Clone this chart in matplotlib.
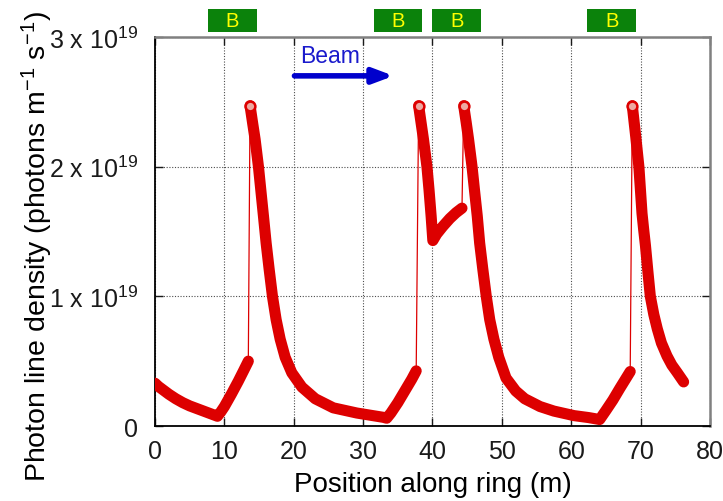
import numpy as np
import matplotlib
matplotlib.use("Agg")
from matplotlib import pyplot as plt
from matplotlib import transforms
from matplotlib.patches import Rectangle

plt.rcParams["font.family"] = ["Liberation Sans", "DejaVu Sans"]
plt.rcParams["mathtext.fontset"] = "custom"
plt.rcParams["mathtext.rm"] = "Liberation Sans"
plt.rcParams["mathtext.it"] = "Liberation Sans:italic"
plt.rcParams["mathtext.bf"] = "Liberation Sans:bold"

# ---------------------------
# datos (densidad en unidades de 1e19 fotones/m/s)
# ---------------------------
# tramo antes del primer dipolo
x_a = [0, 0.5, 1, 2, 3, 4, 5, 6, 7, 8, 9.0, 9.5, 10, 11, 12, 12.8, 13.45]
y_a = [0.33, 0.305, 0.285, 0.245, 0.21, 0.18, 0.155, 0.135, 0.115, 0.095, 0.075,
       0.11, 0.15, 0.245, 0.345, 0.43, 0.50]

# pico 1 + decaimiento + subida
x_b = [13.7, 14.06, 14.43, 14.91, 15.25, 15.63, 16.02, 16.45, 16.93, 17.46, 18.04,
       18.76, 19.72, 21.17, 23.1, 25.7, 29.1, 32.9, 33.4, 34, 35, 36, 37, 37.65]
y_b = [2.47, 2.34, 2.21, 2.0, 1.82, 1.62, 1.41, 1.21, 1.0, 0.82, 0.67,
       0.53, 0.41, 0.30, 0.21, 0.14, 0.10, 0.067, 0.06, 0.10, 0.18, 0.27, 0.36, 0.425]

# pico 2 (entre dos dipolos)
x_c = [38.0, 38.35, 38.7, 39.2, 39.5, 39.8, 40.05, 40.6, 41.5, 42.5, 43.4, 44.25]
y_c = [2.47, 2.34, 2.21, 2.0, 1.82, 1.62, 1.43, 1.48, 1.54, 1.60, 1.645, 1.68]

# pico 3 + decaimiento largo + subida
x_d = [44.5, 44.86, 45.2, 45.7, 46.05, 46.45, 46.8, 47.25, 47.75, 48.25, 48.85,
       49.55, 50.6, 52.0, 53.3, 55.5, 57.5, 60.4, 62.5, 64.1, 65, 66, 67, 68.5]
y_d = [2.47, 2.34, 2.21, 2.0, 1.82, 1.62, 1.41, 1.21, 1.0, 0.82, 0.67,
       0.53, 0.37, 0.27, 0.21, 0.15, 0.115, 0.08, 0.065, 0.05, 0.12, 0.20, 0.29, 0.42]

# pico 4
x_e = [68.8, 69.05, 69.3, 69.75, 70.0, 70.2, 70.45, 70.7, 71.05, 71.4, 71.9, 72.4,
       73.0, 73.8, 74.5, 75.3, 76.2]
y_e = [2.47, 2.35, 2.23, 2.0, 1.80, 1.64, 1.51, 1.39, 1.19, 1.0, 0.86, 0.75,
       0.64, 0.54, 0.47, 0.41, 0.34]

segments = [(x_a, y_a), (x_b, y_b), (x_c, y_c), (x_d, y_d), (x_e, y_e)]

# dipolos (B)
bend_start = [7.65, 31.6, 40.0, 62.3]
bend_end = [14.7, 38.5, 47.0, 69.4]

y_ticks = [0, 1, 2, 3]
y_tick_labels = ["0", "1 x 10$^{19}$", "2 x 10$^{19}$", "3 x 10$^{19}$"]
x_ticks = [0, 10, 20, 30, 40, 50, 60, 70, 80]

red = "#dd0000"

# ---------------------------
# graficar
# ---------------------------
fig = plt.figure(figsize=(7.23, 5.02), dpi=100)
ax = fig.add_axes([0.2144, 0.1494, 0.7676, 0.775])

# línea fina que une todos los puntos (saltos verticales)
x_all = np.concatenate([s[0] for s in segments])
y_all = np.concatenate([s[1] for s in segments])
ax.plot(x_all, y_all, color=red, linewidth=0.9, zorder=3)

# banda gruesa de círculos
for xs, ys in segments:
    ax.plot(xs, ys, color=red, linewidth=8, solid_capstyle="round",
            solid_joinstyle="round", zorder=4)

# círculo abierto en cada máximo
for xs, ys in segments[1:]:
    ax.plot(xs[0], ys[0], "o", markersize=7, markerfacecolor="#eea8a0",
            markeredgecolor=red, markeredgewidth=1.8, zorder=5)

ax.set_xlim(0, 80)
ax.set_ylim(0, 3)
ax.set_xticks(x_ticks)
ax.set_yticks(y_ticks)
ax.set_yticklabels(y_tick_labels)

ax.grid(True, linestyle=(0, (1, 1.5)), color="0.3", linewidth=0.8)
ax.tick_params(direction="in", length=6, width=1, top=True, right=True,
               labelsize=18, colors="0.1")
ax.tick_params(axis="y", pad=12)
ax.tick_params(axis="x", pad=9)

for side in ["left", "bottom"]:
    ax.spines[side].set_color("black")
    ax.spines[side].set_linewidth(1.3)
for side in ["top", "right"]:
    ax.spines[side].set_color("0.5")
    ax.spines[side].set_linewidth(1.8)

ax.set_xlabel("Position along ring (m)", fontsize=20, labelpad=6)
ax.set_ylabel("Photon line density (photons m$^{-1}$ s$^{-1}$)", fontsize=20.5)
ax.yaxis.set_label_coords(-0.18, 0.463)

# cajas de dipolos sobre el gráfico
trans = transforms.blended_transform_factory(ax.transData, ax.transAxes)
for x0, x1 in zip(bend_start, bend_end):
    ax.add_patch(Rectangle((x0, 1.013), x1 - x0, 0.059, transform=trans,
                           facecolor="#0b820b", edgecolor="none", clip_on=False))
    ax.text((x0 + x1) / 2, 1.043, "B", transform=trans, ha="center", va="center",
            color="#ffff00", fontsize=14.5)

# flecha del haz
ax.annotate("", xy=(34.4, 2.7), xytext=(20.1, 2.7),
            arrowprops=dict(arrowstyle="-|>,head_length=1.2,head_width=0.45",
                            color="#0000cc", linewidth=4, shrinkA=0, shrinkB=0))
ax.text(20.9, 2.86, "Beam", color="#1a1acc", fontsize=16.5, ha="left", va="center")

fig.savefig("out.png", dpi=100)
